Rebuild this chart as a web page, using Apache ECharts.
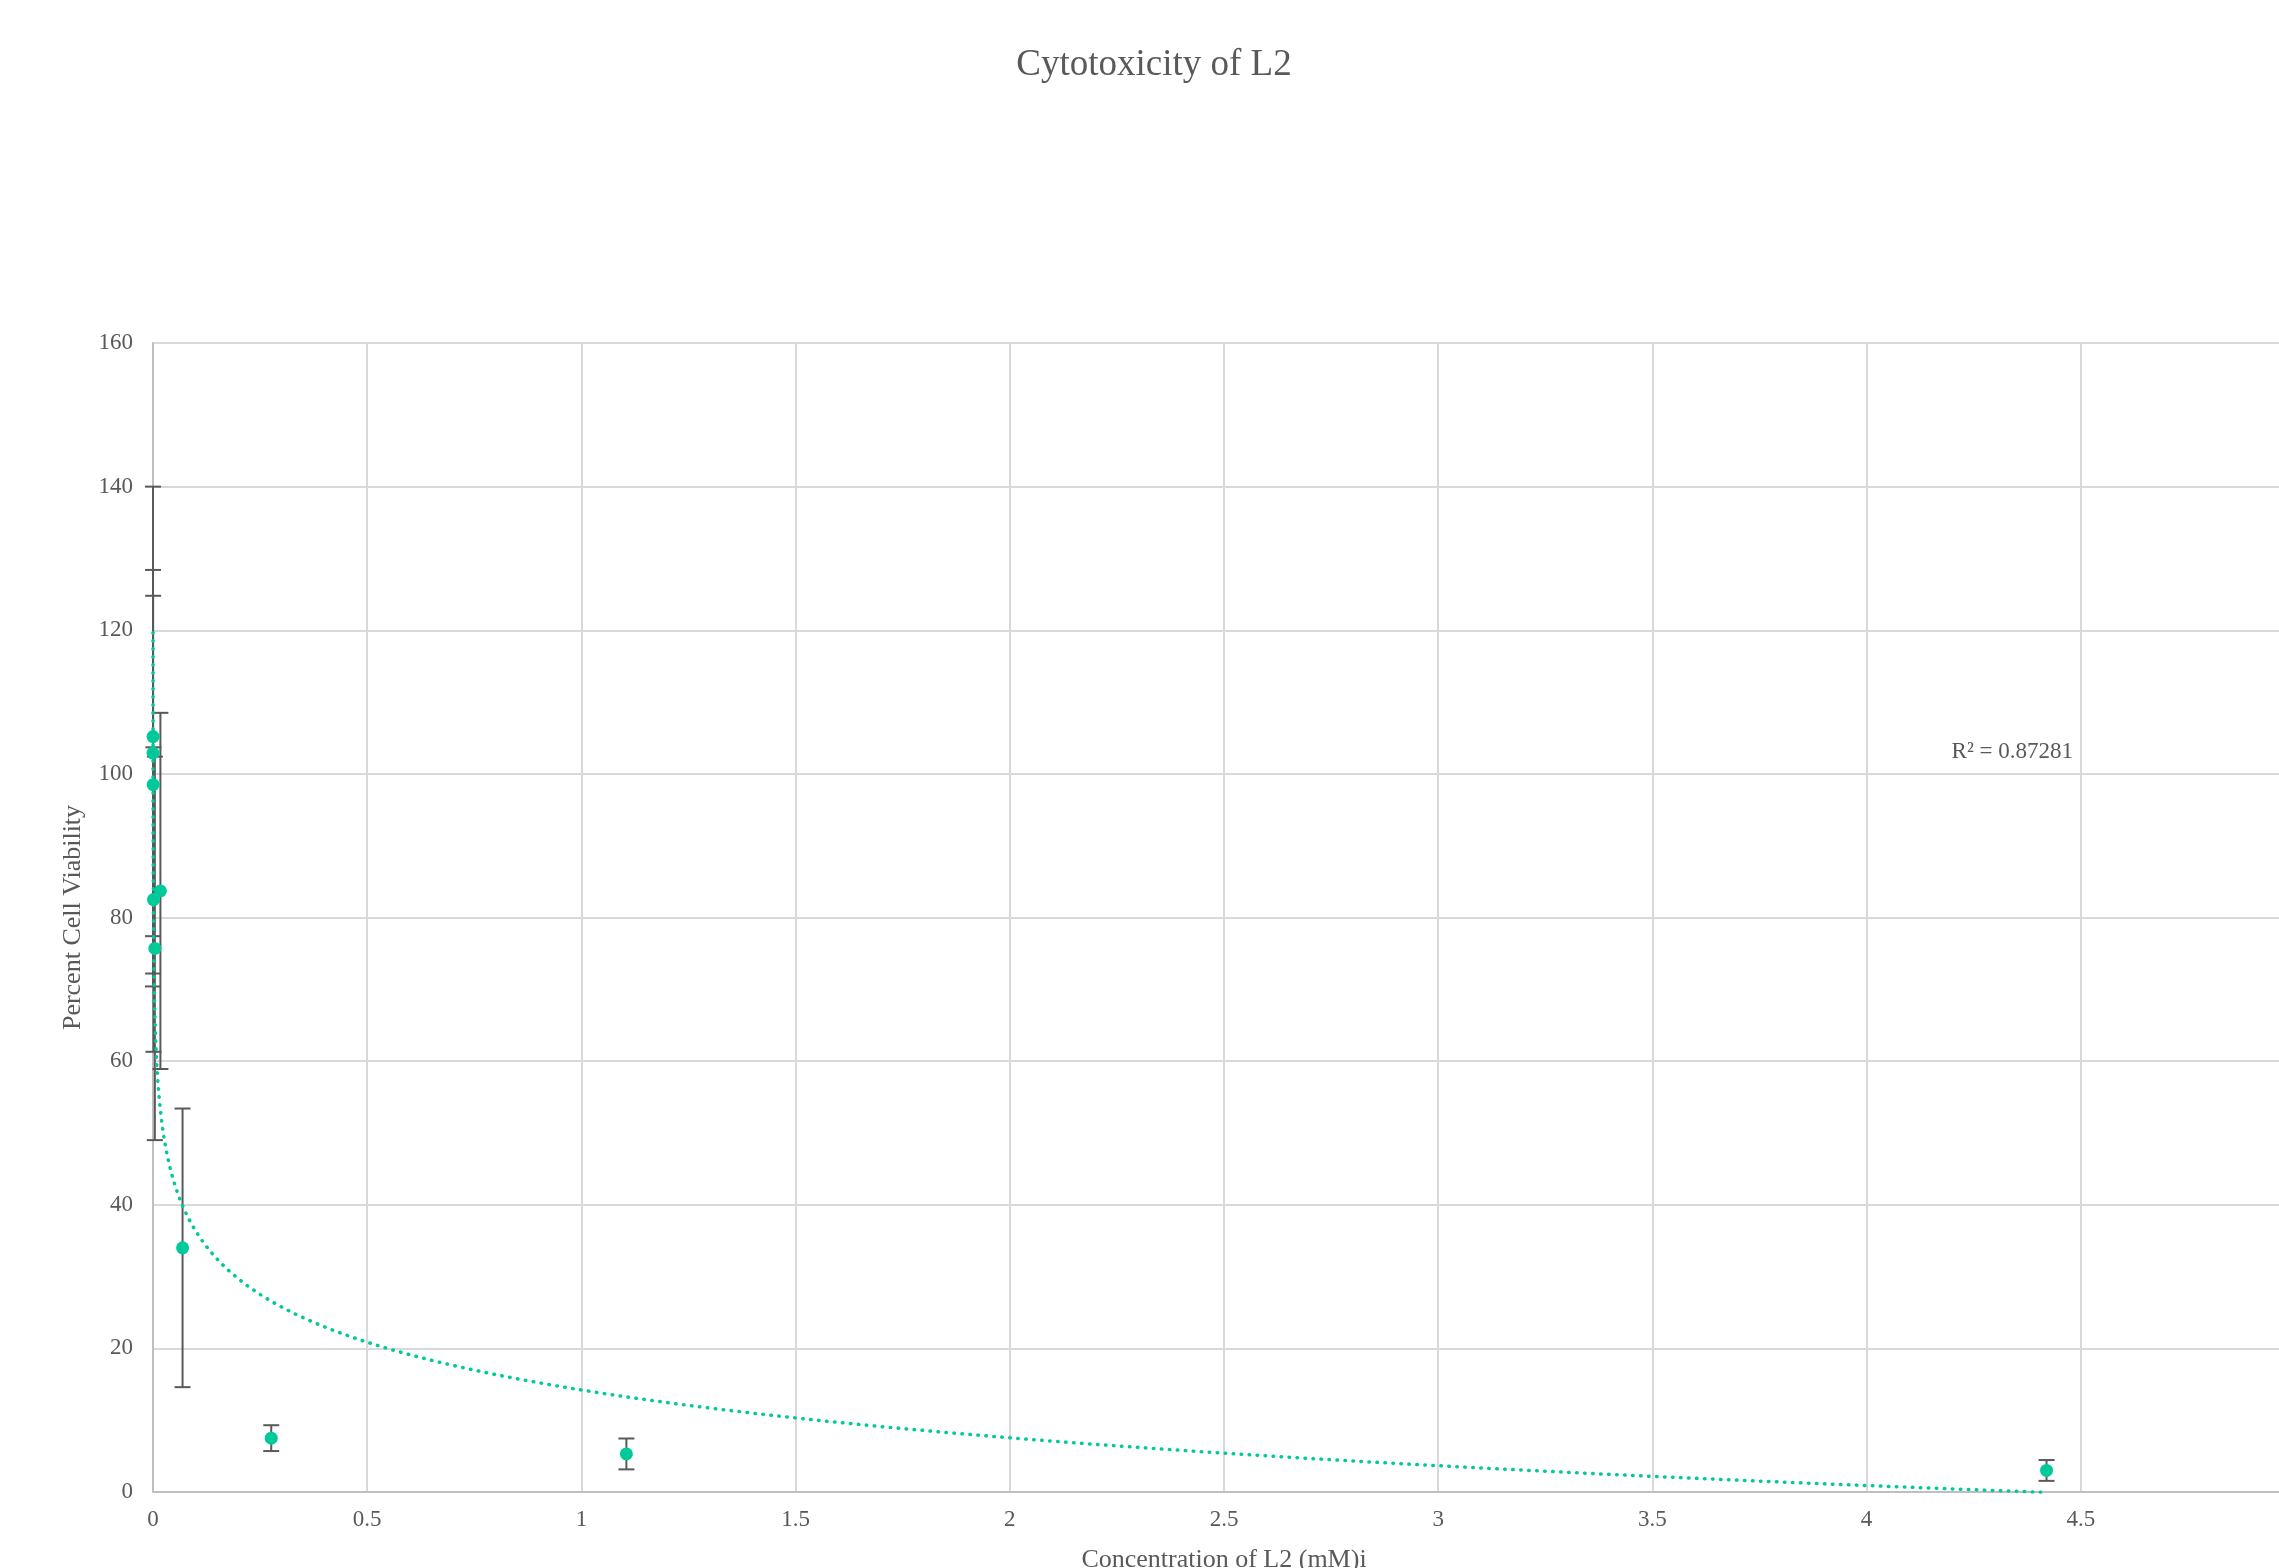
<!DOCTYPE html>
<html>
<head>
<meta charset="utf-8">
<script src="https://cdn.jsdelivr.net/npm/echarts@6/dist/echarts.min.js"></script>
<style>
  html, body { margin: 0; padding: 0; background: #ffffff; overflow: hidden; }
  #chart { width: 2279px; height: 1568px; }
</style>
</head>
<body>
<div id="chart"></div>
<script>
// Concentration of L2 (mM), fourfold dilution series
const concentrations = [0.000017, 0.000067, 0.00027, 0.00108, 0.0043, 0.0173, 0.069, 0.276, 1.105, 4.42];
// Mean percent cell viability at each concentration
const viability = [105.2, 102.9, 98.5, 82.5, 75.7, 83.7, 34.0, 7.5, 5.3, 3.0];
// Error (+/-) for each mean
const viabilityError = [34.8, 25.5, 26.3, 21.2, 26.7, 24.8, 19.4, 1.8, 2.15, 1.45];
const xTicks = { min: 0, max: 5, interval: 0.5 };
const yTicks = { min: 0, max: 160, interval: 20 };
const rSquaredText = 'R² = 0.87281';

const FONT = "'Liberation Serif', 'Times New Roman', serif";
const GREEN = '#00C99A';
const TEXT = '#595959';

// Logarithmic least-squares fit: y = a*ln(x) + b
function logFit(xs, ys) {
  const n = xs.length;
  const lx = xs.map(Math.log);
  const mx = lx.reduce((s, v) => s + v, 0) / n;
  const my = ys.reduce((s, v) => s + v, 0) / n;
  let sxx = 0, sxy = 0;
  for (let i = 0; i < n; i++) {
    sxx += (lx[i] - mx) * (lx[i] - mx);
    sxy += (lx[i] - mx) * (ys[i] - my);
  }
  const a = sxy / sxx;
  return { a: a, b: my - a * mx };
}
const fit = logFit(concentrations, viability);
const xMin = Math.min.apply(null, concentrations);
const xMax = Math.max.apply(null, concentrations);
const trend = [];
const steps = 800;
for (let i = 0; i <= steps; i++) {
  const lx = Math.log(xMin) + (Math.log(xMax) - Math.log(xMin)) * i / steps;
  trend.push([Math.exp(lx), fit.a * lx + fit.b]);
}

const points = concentrations.map((c, i) => [c, viability[i]]);
const bars = concentrations.map((c, i) => [c, viability[i] - viabilityError[i], viability[i] + viabilityError[i]]);

const chart = echarts.init(document.getElementById('chart'), null, { renderer: 'canvas' });

chart.setOption({
  backgroundColor: '#ffffff',
  animation: false,
  title: {
    text: 'Cytotoxicity of L2',
    left: 1149,
    textAlign: 'center',
    top: 42,
    textStyle: { fontFamily: FONT, fontSize: 37, fontWeight: 'normal', color: TEXT }
  },
  grid: {
    left: 153, top: 343, width: 2142, height: 1149,
    containLabel: false,
    outerBoundsMode: 'none'
  },
  xAxis: {
    type: 'value',
    min: xTicks.min, max: xTicks.max, interval: xTicks.interval,
    name: 'Concentration of L2 (mM)i',
    nameLocation: 'middle',
    nameGap: 55,
    nameTextStyle: { fontFamily: FONT, fontSize: 26, color: TEXT },
    axisLine: { show: true, lineStyle: { color: '#BFBFBF', width: 2 } },
    axisTick: { show: false },
    axisLabel: { fontFamily: FONT, fontSize: 23, color: TEXT, margin: 16 },
    splitLine: { show: true, lineStyle: { color: '#D9D9D9', width: 2 } }
  },
  yAxis: {
    type: 'value',
    min: yTicks.min, max: yTicks.max, interval: yTicks.interval,
    name: 'Percent Cell Viability',
    nameLocation: 'middle',
    nameRotate: 90,
    nameGap: 67,
    nameTextStyle: { fontFamily: FONT, fontSize: 26, color: TEXT },
    axisLine: { show: true, lineStyle: { color: '#BFBFBF', width: 2 } },
    axisTick: { show: false },
    axisLabel: { fontFamily: FONT, fontSize: 23, color: TEXT, margin: 20 },
    splitLine: { show: true, lineStyle: { color: '#D9D9D9', width: 2 } }
  },
  series: [
    {
      name: 'Error',
      type: 'custom',
      z: 3,
      data: bars,
      renderItem: function (params, api) {
        const x = api.value(0);
        const top = api.coord([x, api.value(2)]);
        const bottom = api.coord([x, api.value(1)]);
        const half = 8;
        const style = { stroke: '#595959', lineWidth: 2 };
        return {
          type: 'group',
          children: [
            { type: 'line', shape: { x1: top[0], y1: top[1], x2: bottom[0], y2: bottom[1] }, style: style },
            { type: 'line', shape: { x1: top[0] - half, y1: top[1], x2: top[0] + half, y2: top[1] }, style: style },
            { type: 'line', shape: { x1: bottom[0] - half, y1: bottom[1], x2: bottom[0] + half, y2: bottom[1] }, style: style }
          ]
        };
      }
    },
    {
      name: 'Viability',
      type: 'scatter',
      z: 4,
      symbol: 'circle',
      symbolSize: 13,
      itemStyle: { color: GREEN, opacity: 1 },
      data: points
    },
    {
      name: 'Log trend',
      type: 'line',
      z: 5,
      showSymbol: false,
      symbol: 'none',
      smooth: false,
      silent: true,
      lineStyle: { color: GREEN, width: 3.5, type: [0.5, 7.5], cap: 'round' },
      data: trend
    }
  ],
  graphic: [
    {
      type: 'text',
      right: 2279 - 2073,
      top: 740,
      style: { text: rSquaredText, fontFamily: FONT, fontSize: 23, fill: TEXT }
    }
  ]
});
</script>
</body>
</html>
